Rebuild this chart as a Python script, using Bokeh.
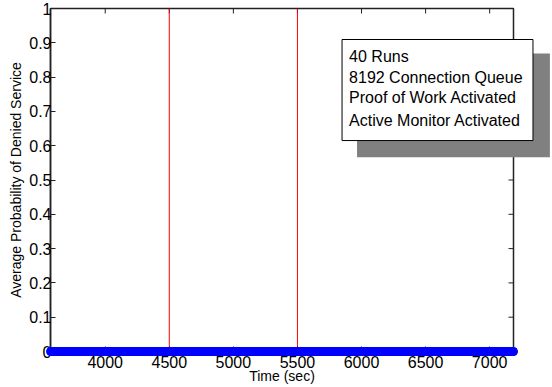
from bokeh.plotting import figure
from bokeh.models import Range1d, FixedTicker
from bokeh.core.properties import value
from bokeh.embed import file_html
from bokeh.resources import INLINE

# Sampled simulation times (sec) and the averaged probability of denied service
time_sec = list(range(3573, 7187, 10)) + [7186]
prob_denied = [0.0] * len(time_sec)

# Times at which the defences were switched on
event_times = [4500, 5500]

x_ticks = [4000, 4500, 5000, 5500, 6000, 6500, 7000]
y_ticks = [0, 0.1, 0.2, 0.3, 0.4, 0.5, 0.6, 0.7, 0.8, 0.9, 1]
y_tick_labels = ["0", "0.1", "0.2", "0.3", "0.4", "0.5", "0.6", "0.7", "0.8", "0.9", "1"]

note_lines = ["40 Runs", "8192 Connection Queue", "Proof of Work Activated",
              "Active Monitor Activated"]

FONT = "Liberation Sans"
AXIS_COLOR = "#222222"

x0, x1 = time_sec[0], time_sec[-1]
p = figure(width=552, height=387,
           x_range=Range1d(x0, x1), y_range=Range1d(0, 1),
           output_backend="svg", toolbar_location=None,
           min_border_left=50, min_border_right=39,
           min_border_top=8, min_border_bottom=36)
p.background_fill_color = "white"
p.border_fill_color = "white"
p.outline_line_color = AXIS_COLOR
p.outline_line_width = 1.5
p.xgrid.visible = False
p.ygrid.visible = False

p.xaxis.ticker = FixedTicker(ticks=x_ticks)
p.yaxis.ticker = FixedTicker(ticks=y_ticks)
p.yaxis.major_label_overrides = {t: s for t, s in zip(y_ticks, y_tick_labels)}

for ax in (p.xaxis[0], p.yaxis[0]):
    ax.major_tick_in = 5
    ax.major_tick_out = 0
    ax.minor_tick_in = 0
    ax.minor_tick_out = 0
    ax.axis_line_color = AXIS_COLOR
    ax.axis_line_width = 1.5
    ax.major_tick_line_color = AXIS_COLOR
    ax.major_label_text_font = FONT
    ax.major_label_text_font_size = "16px"
    ax.major_label_text_color = "black"
    ax.axis_label_text_font = FONT
    ax.axis_label_text_font_size = "14px"
    ax.axis_label_text_font_style = "normal"
    ax.axis_label_text_color = "black"

p.xaxis.major_label_standoff = 4
p.xaxis.axis_label_standoff = -3
p.yaxis.major_label_standoff = -1
p.yaxis.axis_label_standoff = 2

p.xaxis.axis_label = "Time (sec)"
p.yaxis.axis_label = "Average Probability of Denied Service"

# Inward ticks mirrored on the top and right edges of the box
tick_dy = 0.0146
tick_dx = 39
p.segment(x0=x_ticks, y0=[1] * len(x_ticks), x1=x_ticks, y1=[1 - tick_dy] * len(x_ticks),
          line_color=AXIS_COLOR, line_width=1)
p.segment(x0=[x1] * len(y_ticks), y0=y_ticks, x1=[x1 - tick_dx] * len(y_ticks), y1=y_ticks,
          line_color=AXIS_COLOR, line_width=1)

# Event markers
p.segment(x0=event_times, y0=[0] * len(event_times), x1=event_times, y1=[1] * len(event_times),
          line_color="red", line_width=1)

# Denied-service probability trace (drawn unclipped, like thick markers on the axis)
trace = p.scatter(time_sec, prob_denied, size=8, fill_color="blue", line_color="blue")
trace.level = "overlay"

# Annotation box with drop shadow, allowed to overhang the right edge
shadow = p.quad(left=[5965], right=[7470], top=[0.869], bottom=[0.566],
                fill_color="#808080", line_color=None)
shadow.level = "overlay"
box = p.quad(left=[5848], right=[7338], top=[0.9096], bottom=[0.615],
             fill_color="white", line_color="black", line_width=1)
box.level = "overlay"

note_y = [0.860, 0.799, 0.741, 0.673]
notes = p.text(x=[5903] * len(note_lines), y=note_y, text=note_lines,
               text_font=value(FONT), text_font_size="16px", text_color="black",
               text_baseline="middle", text_align="left")
notes.level = "overlay"

open("out.html", "w").write(file_html(p, INLINE))
